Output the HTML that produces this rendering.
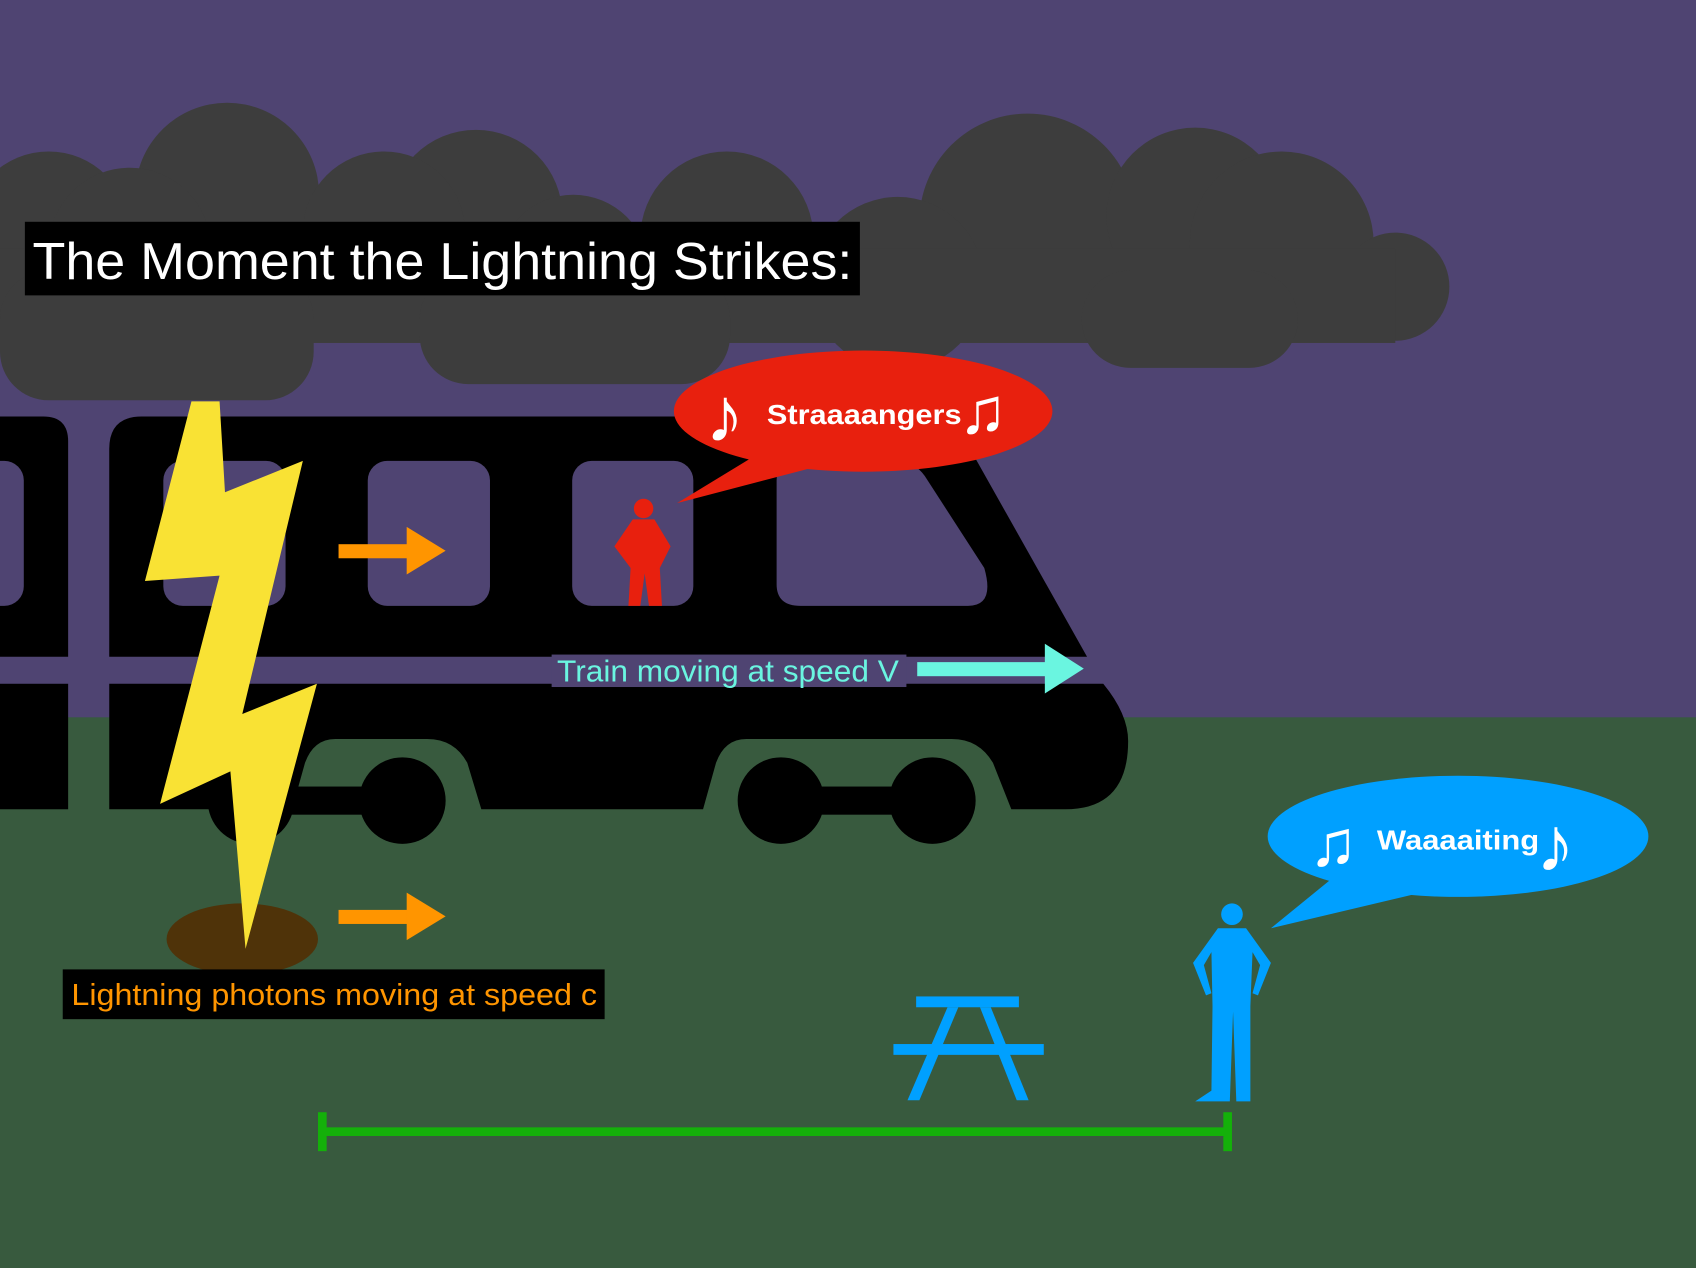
<!DOCTYPE html>
<html><head><style>html,body{margin:0;padding:0;background:#4f4472;overflow:hidden}svg{display:block}</style></head>
<body>
<svg width="1696" height="1268" viewBox="0 0 1568 1172" preserveAspectRatio="none" xmlns="http://www.w3.org/2000/svg" font-family="Liberation Sans, sans-serif">
<rect x="0" y="0" width="1568" height="663" fill="#4f4472"/>
<rect x="0" y="663" width="1568" height="509" fill="#385a3e"/>
<g fill="#3d3d3d">
<circle cx="210" cy="180" r="85"/><circle cx="45" cy="215" r="75"/><circle cx="120" cy="230" r="75"/>
<circle cx="440" cy="200" r="80"/><circle cx="355" cy="215" r="75"/><circle cx="530" cy="250" r="70"/><circle cx="672" cy="220" r="80"/>
<circle cx="950" cy="205" r="100"/><circle cx="1105" cy="200" r="82"/><circle cx="1185" cy="225" r="85"/><circle cx="830" cy="262" r="80"/><circle cx="1290" cy="265" r="50"/>
<rect x="0" y="230" width="1290" height="87"/>
<rect x="0" y="250" width="290" height="120" rx="45"/>
<rect x="388" y="250" width="287" height="105" rx="45"/>
<rect x="1000" y="250" width="200" height="90" rx="45"/>
</g>
<rect x="23" y="205" width="772" height="68" fill="#000"/>
<text x="30" y="258" font-size="48" fill="#fff" textLength="758" lengthAdjust="spacingAndGlyphs">The Moment the Lightning Strikes:</text>
<g fill="#000">
<path d="M0 385 H40 Q63 385 63 408 V607 H0Z"/>
<rect x="0" y="632" width="63" height="116"/>
<path d="M101 607 V415 Q101 385 131 385 H880 L1005 607Z"/>
<path d="M101 632 H1020 Q1043 660 1043 685 Q1043 748 985 748 H935 L918 705 Q905 683 880 683 H690 Q670 683 662 705 L650 748 H445 L432 705 Q420 683 395 683 H310 Q290 683 282 705 L270 748 H101Z"/>
<circle cx="232" cy="740" r="40"/><circle cx="372" cy="740" r="40"/><circle cx="722" cy="740" r="40"/><circle cx="862" cy="740" r="40"/>
<rect x="232" y="727" width="140" height="26"/><rect x="722" y="727" width="140" height="26"/>
</g>
<g fill="#4f4472">
<rect x="-20" y="426" width="42" height="134" rx="18"/>
<rect x="151" y="426" width="113" height="134" rx="18"/>
<rect x="340" y="426" width="113" height="134" rx="18"/>
<rect x="529" y="426" width="112" height="134" rx="18"/>
<path d="M736 426 H828 Q845 426 855 440 L910 525 Q920 560 895 560 H740 Q718 560 718 540 V444 Q718 426 736 426Z"/>
</g>
<g fill="#e8200e">
<circle cx="595" cy="470" r="9"/>
<path d="M585 480 H605 L620 505 L610 525 L612 560 H600 L596 530 L592 560 H581 L583 525 L568 505Z"/>
</g>
<path d="M626 465 L700 420 L760 430Z" fill="#e8200e"/>
<ellipse cx="798" cy="380" rx="175" ry="56" fill="#e8200e"/>
<text x="709" y="392" font-size="26" font-weight="bold" fill="#fff" textLength="180" lengthAdjust="spacingAndGlyphs">Straaaangers</text>
<text x="652" y="408" font-size="72" fill="#fff">♪</text>
<text x="886" y="400" font-size="60" fill="#fff">♫</text>
<g fill="#ff9500">
<rect x="313" y="503" width="65" height="13"/><path d="M376 487 L412 509 L376 531Z"/>
<rect x="313" y="841" width="65" height="13"/><path d="M376 825 L412 847 L376 869Z"/>
</g>
<ellipse cx="224" cy="868" rx="70" ry="33" fill="#4f3309"/>
<path d="M177 371 L203 371 L208 455 L280 426 L224 660 L293 632 L227 877 L213 713 L148 743 L203 532 L134 537Z" fill="#f9e234"/>
<rect x="58" y="896" width="501" height="46" fill="#000"/>
<text x="66" y="929" font-size="28" fill="#ff9500" textLength="486" lengthAdjust="spacingAndGlyphs">Lightning photons moving at speed c</text>
<rect x="510" y="605" width="328" height="30" fill="#4f4472"/>
<text x="515" y="630" font-size="28" fill="#6af5e0" textLength="316" lengthAdjust="spacingAndGlyphs">Train moving at speed V</text>
<rect x="848" y="612" width="120" height="13" fill="#6af5e0"/><path d="M966 595 L1002 618 L966 641Z" fill="#6af5e0"/>
<path d="M1175 858 L1240 805 L1310 826Z" fill="#00a0ff"/>
<ellipse cx="1348" cy="773" rx="176" ry="56" fill="#00a0ff"/>
<text x="1273" y="785" font-size="26" font-weight="bold" fill="#fff" textLength="150" lengthAdjust="spacingAndGlyphs">Waaaaiting</text>
<text x="1210" y="800" font-size="60" fill="#fff">♫</text>
<text x="1420" y="805" font-size="72" fill="#fff">♪</text>
<g fill="#00a0ff">
<circle cx="1139" cy="845" r="10"/>
<path d="M1126 858 H1152 L1175 890 L1163 920 L1158 918 L1165 892 L1158 880 L1156 930 L1156 1018 H1143 L1140 935 L1137 1018 H1105 L1120 1008 L1121 930 L1120 880 L1113 892 L1120 918 L1115 920 L1103 890Z"/>
<rect x="847" y="921" width="95" height="10"/>
<rect x="826" y="965" width="139" height="10"/>
<path d="M876 931 L886 931 L850 1017 L839 1017Z"/><path d="M906 931 L916 931 L951 1017 L940 1017Z"/>
</g>
<g fill="#14b00a">
<rect x="298" y="1042" width="837" height="8"/>
<rect x="294" y="1028" width="8" height="36"/><rect x="1131" y="1028" width="8" height="36"/>
</g>
</svg>
</body></html>
